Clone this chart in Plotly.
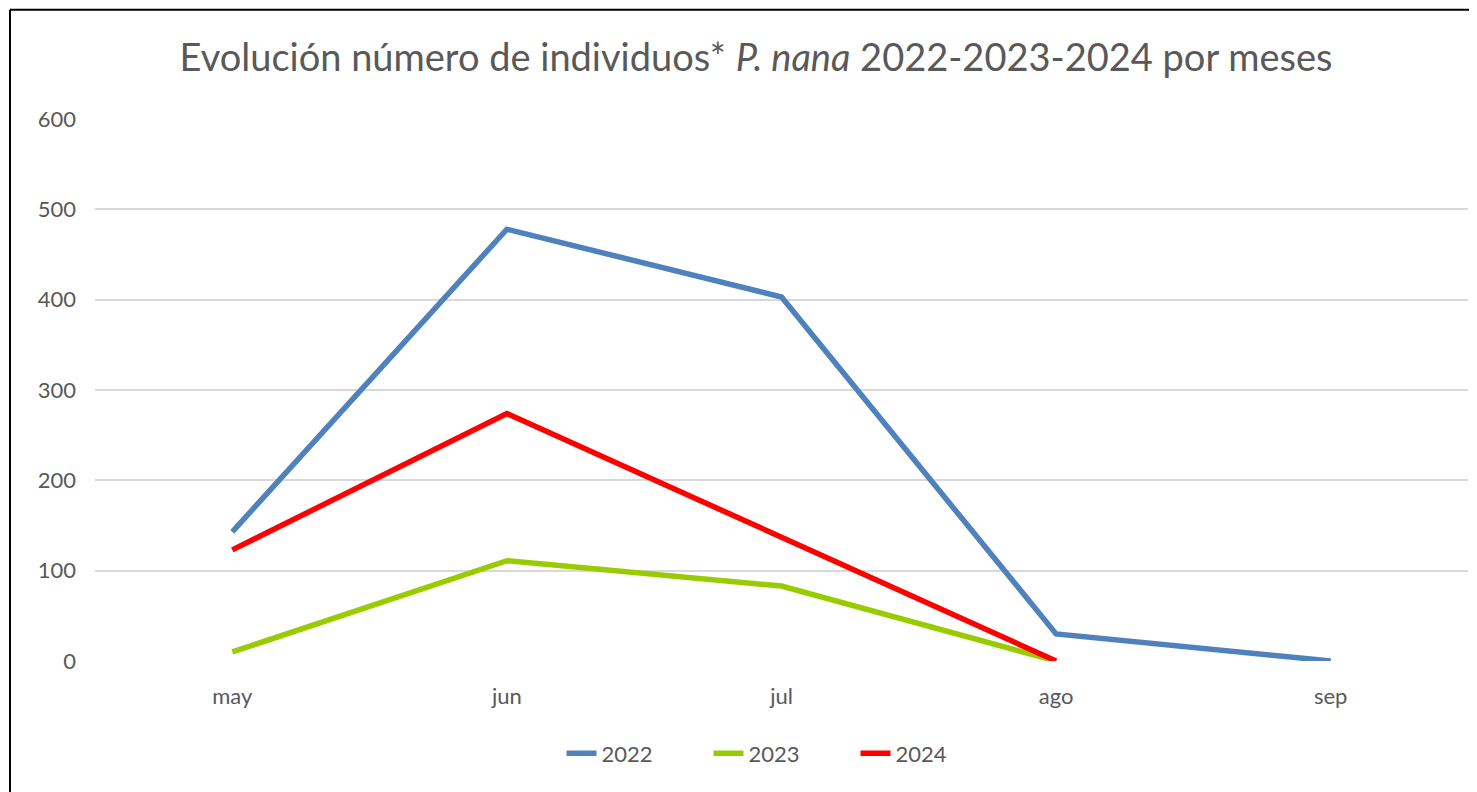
import plotly.graph_objects as go

months = ["may", "jun", "jul", "ago", "sep"]
y2022 = [143, 478, 403, 30, 0]
y2023 = [10, 111, 83, 0, None]
y2024 = [123, 274, 137, 0, None]
series_names = ["2022", "2023", "2024"]
series_colors = ["#4f81bd", "#99cc00", "#ff0000"]

FONT = "Lato"
GREY = "#595959"

# the page adds an 8px offset; target pixel positions below are from the reference
OFF = 8
W, H = 1477, 792
PL, PR, PT, PB = 95 - OFF, 1468 - OFF, 118.5 - OFF, 661.5 - OFF
PW, PH = PR - PL, PB - PT

fig = go.Figure()
for name, vals, col in zip(series_names, [y2022, y2023, y2024], series_colors):
    fig.add_trace(go.Scatter(
        x=months, y=vals, name=name, mode="lines",
        line=dict(color=col, width=5.5), connectgaps=False,
    ))


def px2x(px):
    return (px - OFF - PL) / PW


def px2y(py):
    return (PB - (py - OFF)) / PH


fig.update_layout(
    width=W, height=H,
    margin=dict(l=PL, r=W - PR, t=PT, b=H - PB),
    paper_bgcolor="white", plot_bgcolor="white",
    title=dict(
        text="Evolución número de individuos* <i>P. nana</i> 2022-2023-2024 por meses",
        font=dict(family=FONT, size=38, color=GREY),
        x=(756 - OFF) / W, xref="container", xanchor="center",
        y=1 - (58 - OFF) / H, yref="container", yanchor="middle",
    ),
    font=dict(family=FONT, color=GREY),
    showlegend=True,
    legend=dict(
        orientation="h", x=px2x(782), xanchor="center", y=px2y(754), yanchor="middle",
        font=dict(family=FONT, size=22, color=GREY),
        traceorder="normal", entrywidth=102,
    ),
    xaxis=dict(
        type="category", range=[-0.5, 4.5], showgrid=False, zeroline=False,
        showline=False, ticks="", tickfont=dict(family=FONT, size=22, color=GREY),
        ticklabelstandoff=20,
    ),
    yaxis=dict(
        range=[0, 600], tickvals=[0, 100, 200, 300, 400, 500, 600],
        showgrid=True, gridcolor="#d9d9d9", gridwidth=2, zeroline=False,
        showline=False, ticks="", tickfont=dict(family=FONT, size=22, color=GREY),
        ticklabelstandoff=18,
    ),
)

# outer chart border (left and top edges visible in the reference)
fig.add_shape(type="line", xref="paper", yref="paper",
              x0=px2x(10), x1=px2x(10), y0=px2y(9), y1=px2y(820),
              line=dict(color="black", width=2))
fig.add_shape(type="line", xref="paper", yref="paper",
              x0=px2x(10), x1=px2x(1500), y0=px2y(9), y1=px2y(9),
              line=dict(color="black", width=2))

fig.write_html("out.html")
